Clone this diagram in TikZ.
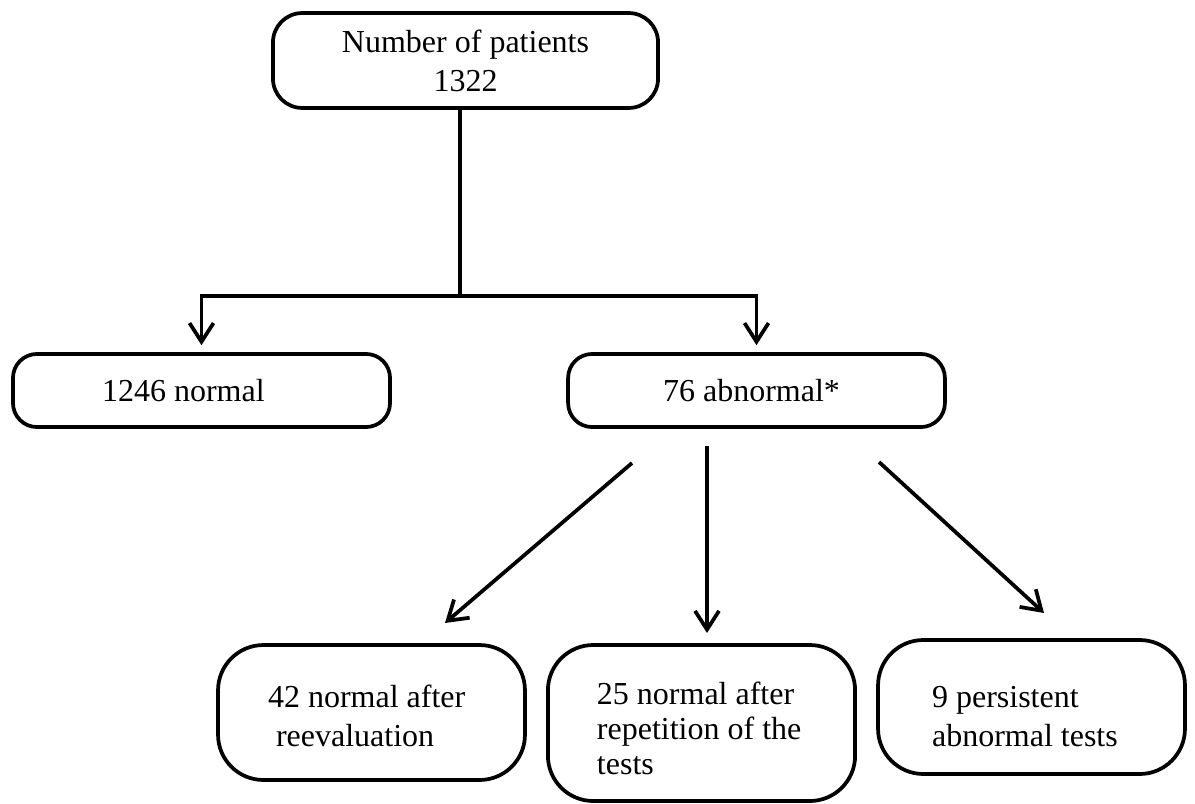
\documentclass[tikz,border=0pt]{standalone}
\usepackage{fontspec}
\setmainfont{Liberation Serif}
\usetikzlibrary{arrows.meta,positioning}

\tikzset{
  box/.style={draw, line width=1.4pt, rounded corners=#1, inner ysep=0pt,
    font=\fontsize{12}{14.6}\selectfont},
  arr/.style={line width=1.4pt, -{Straight Barb[length=7pt,width=9pt,line width=1.4pt]}}
}

\begin{document}
\begin{tikzpicture}[x=0.375pt,y=-0.375pt]
\useasboundingbox (0,0) rectangle (1195,803);

% Top box
\node[box=11pt, align=center, minimum width=144.4pt, minimum height=35.6pt]
  (total) at (465.5,60.5) {Number of patients\\1322};

% First split
\node[box=9pt, align=flush left, text width=74.6pt, inner xsep=33.4pt, minimum height=27.4pt]
  (normal) at (201.5,390.5) {1246 normal};
\node[box=9pt, align=flush left, text width=70.1pt, inner xsep=35.6pt, minimum height=27.4pt]
  (abnormal) at (756.5,390.5) {76 abnormal*};

% Second split
\node[box=17pt, align=flush left, text width=77.6pt, inner xsep=18.75pt, minimum height=50.6pt]
  (reeval) at (371.5,712.5) {\rule{0pt}{11pt}42 normal after\\\hspace*{3pt}reevaluation};
\node[box=17pt, align=flush left, text width=78.4pt, inner xsep=18.4pt, minimum height=58.5pt]
  (repeat) at (701.5,723) {\rule{0pt}{12.7pt}25 normal after\\[-1.5pt]\mbox{repetition of the}\\[-1.5pt]tests};
\node[box=17pt, align=flush left, text width=74.6pt, inner xsep=20.25pt, minimum height=50.25pt]
  (persist) at (1031.5,707) {\rule{0pt}{15pt}9 persistent\\abnormal tests};

% Connectors from the top box
\coordinate (fork) at (460,296);
\draw[line width=1.4pt] (total.south -| fork) -- (fork);
\draw[arr, shorten >=2.6pt] (fork) -| (normal.north);
\draw[arr, shorten >=2.6pt] (fork) -| (abnormal.north);

% Connectors from the abnormal group
\coordinate (a1) at (632,463);
\coordinate (a2) at (707,446);
\coordinate (a3) at (879,462);
\coordinate (b1) at (445,623);
\coordinate (b2) at (707,633);
\coordinate (b3) at (1044,613);
\draw[arr] (a1) -- (b1);
\draw[arr] (a2) -- (b2);
\draw[arr] (a3) -- (b3);

\end{tikzpicture}
\end{document}
